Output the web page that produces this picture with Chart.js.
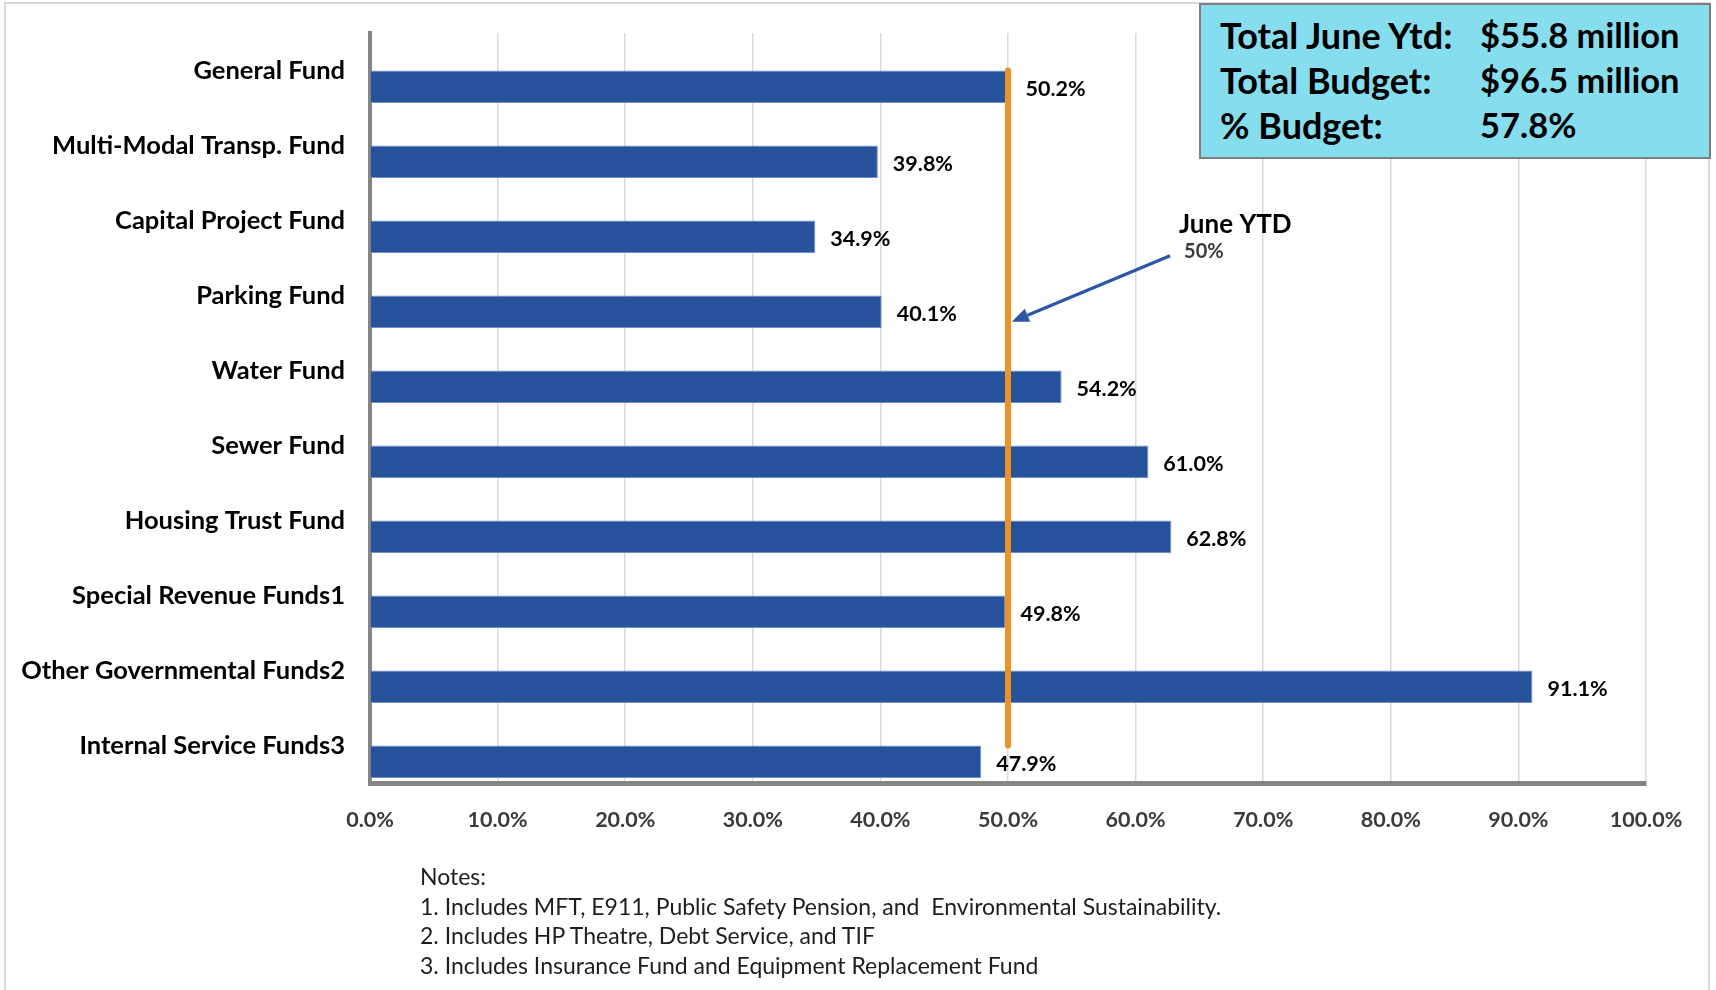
<!DOCTYPE html>
<html>
<head>
<meta charset="utf-8">
<script src="https://cdn.jsdelivr.net/npm/chart.js@4.4.1/dist/chart.umd.min.js"></script>
<style>
  html, body { margin: 0; padding: 0; background: #fff; }
  #wrap { position: relative; width: 1716px; height: 990px; overflow: hidden; font-family: Lato, "Open Sans", sans-serif; }
  #frame { position: absolute; left: 4px; top: 2px; width: 1706px; height: 1000px; border: 2px solid #d9d9d9; box-sizing: border-box; }
  #chart { position: absolute; left: 0; top: 0; }
  #summary { position: absolute; left: 1199px; top: 3px; width: 512px; height: 156px; box-sizing: border-box;
             background: #86dded; border: 2px solid #7f7f7f; }
  #summary .row { position: absolute; left: 0; width: 100%; height: 40px; line-height: 40px; font-weight: 700; color: #000; }
  #summary .row span { position: absolute; white-space: nowrap; }
  #summary .k { left: 19px; font-size: 36px; }
  #summary .v { left: 279px; font-size: 34.5px; }
  #notes { position: absolute; left: 420px; top: 862px; font-size: 23px; line-height: 29.7px; color: #1e1e1e; white-space: pre; }
</style>
</head>
<body>
<div id="wrap">
  <div id="frame"></div>
  <canvas id="chart" width="1716" height="990"></canvas>
  <div id="summary"></div>
  <div id="notes"></div>
</div>
<script>
// Funds and their year-to-date spending as a share of budget
const categories = [
  'General Fund',
  'Multi-Modal Transp. Fund',
  'Capital Project Fund',
  'Parking Fund',
  'Water Fund',
  'Sewer Fund',
  'Housing Trust Fund',
  'Special Revenue Funds1',
  'Other Governmental Funds2',
  'Internal Service Funds3'
];
const pctOfBudget = [50.2, 39.8, 34.9, 40.1, 54.2, 61.0, 62.8, 49.8, 91.1, 47.9];
// empty companion series: keeps each bar in the lower half of its band
const emptySeries = [null, null, null, null, null, null, null, null, null, null];
// June year-to-date benchmark (50%) drawn as a vertical line
const ytdBenchmark = [50, 50, 50, 50, 50, 50, 50, 50, 50, 50];
const xTickLabels = ['0.0%', '10.0%', '20.0%', '30.0%', '40.0%', '50.0%', '60.0%', '70.0%', '80.0%', '90.0%', '100.0%'];
const ytdNote = ['June YTD', '50%'];

const summaryLabels = ['Total June Ytd:', 'Total Budget:', '% Budget:'];
const summaryValues = ['$55.8 million', '$96.5 million', '57.8%'];
const noteLines = [
  'Notes:',
  '1. Includes MFT, E911, Public Safety Pension, and  Environmental Sustainability.',
  '2. Includes HP Theatre, Debt Service, and TIF',
  '3. Includes Insurance Fund and Equipment Replacement Fund'
];

// summary box and notes
const summary = document.getElementById('summary');
const rowTops = [10, 55, 100];
summaryLabels.forEach((k, i) => {
  const row = document.createElement('div');
  row.className = 'row';
  row.style.top = rowTops[i] + 'px';
  const a = document.createElement('span'); a.className = 'k'; a.textContent = k;
  const b = document.createElement('span'); b.className = 'v'; b.textContent = summaryValues[i];
  row.appendChild(a); row.appendChild(b);
  summary.appendChild(row);
});
document.getElementById('notes').textContent = noteLines.join('\n');

// callout arrow, in data units (x: percent, y: category index)
const arrowSpec = { from: [62.7, 2.47], to: [50.3, 3.35] };

const barLabelsAndCallout = {
  id: 'barLabelsAndCallout',
  afterDatasetsDraw(chart) {
    const { ctx, scales: { x, y } } = chart;
    ctx.save();
    // value labels at the end of each bar
    const meta = chart.getDatasetMeta(2);
    ctx.font = 'bold 21.5px Lato';
    ctx.fillStyle = '#000';
    ctx.textBaseline = 'middle';
    ctx.textAlign = 'left';
    meta.data.forEach((bar, i) => {
      ctx.fillText(pctOfBudget[i].toFixed(1) + '%', bar.x + 15, bar.y + 2);
    });

    // arrow pointing at the benchmark line
    const x0 = x.getPixelForValue(arrowSpec.from[0]);
    const y0 = y.getPixelForValue(arrowSpec.from[1]);
    const x1 = x.getPixelForValue(arrowSpec.to[0]);
    const y1 = y.getPixelForValue(arrowSpec.to[1]);
    const ang = Math.atan2(y1 - y0, x1 - x0);
    const headLen = 17, headHalf = 7;
    const bx = x1 - headLen * Math.cos(ang), by = y1 - headLen * Math.sin(ang);
    ctx.strokeStyle = '#2b56a3';
    ctx.fillStyle = '#2b56a3';
    ctx.lineWidth = 3.2;
    ctx.beginPath();
    ctx.moveTo(x0, y0);
    ctx.lineTo(bx, by);
    ctx.stroke();
    ctx.beginPath();
    ctx.moveTo(x1, y1);
    ctx.lineTo(bx + headHalf * Math.sin(ang), by - headHalf * Math.cos(ang));
    ctx.lineTo(bx - headHalf * Math.sin(ang), by + headHalf * Math.cos(ang));
    ctx.closePath();
    ctx.fill();

    // callout text
    ctx.textBaseline = 'alphabetic';
    ctx.font = 'bold 26px Lato';
    ctx.fillStyle = '#000';
    ctx.fillText(ytdNote[0], x0 + 9, y0 - 23);
    ctx.font = 'bold 20px Lato';
    ctx.fillStyle = '#3a3a3a';
    ctx.fillText(ytdNote[1], x0 + 14, y0 + 2);
    ctx.restore();
  }
};

new Chart(document.getElementById('chart'), {
  type: 'bar',
  data: {
    labels: categories,
    datasets: [
      {
        type: 'line',
        label: 'June YTD',
        data: ytdBenchmark,
        indexAxis: 'y',
        borderColor: '#ee9226',
        borderWidth: 6,
        borderCapStyle: 'round',
        pointRadius: 0,
        fill: false,
        order: 0
      },
      {
        label: 'blank',
        data: emptySeries,
        backgroundColor: 'rgba(0,0,0,0)',
        order: 1
      },
      {
        label: '% of Budget',
        data: pctOfBudget,
        backgroundColor: '#25529a',
        borderColor: '#6f8ec4',
        borderWidth: 1,
        order: 2
      }
    ]
  },
  options: {
    indexAxis: 'y',
    responsive: false,
    animation: false,
    events: [],
    categoryPercentage: 0.867,
    barPercentage: 1,
    layout: { padding: { top: 33, right: 70, left: 0, bottom: 0 } },
    plugins: { legend: { display: false }, tooltip: { enabled: false } },
    scales: {
      x: {
        min: 0,
        max: 100,
        ticks: {
          stepSize: 10,
          autoSkip: false,
          maxRotation: 0,
          callback: (v, i) => xTickLabels[i],
          color: '#3a3a3a',
          font: { family: 'Lato', weight: 'bold', size: 21.5 },
          padding: 24
        },
        grid: { color: '#d9d9d9', lineWidth: 1.5, drawTicks: false },
        border: { display: true, color: '#858585', width: 5 },
        afterFit: s => { s.height = 207; s.paddingLeft = 0; s.paddingRight = 0; }
      },
      y: {
        z: 1,
        grid: { display: false, drawTicks: false },
        border: { display: true, color: '#858585', width: 4 },
        ticks: {
          color: '#000',
          font: { family: 'Lato', weight: 'bold', size: 25.5 },
          padding: 25
        },
        afterFit: s => { s.width = 370; s.paddingTop = 0; s.paddingBottom = 0; }
      }
    }
  },
  plugins: [barLabelsAndCallout]
});
</script>
</body>
</html>
